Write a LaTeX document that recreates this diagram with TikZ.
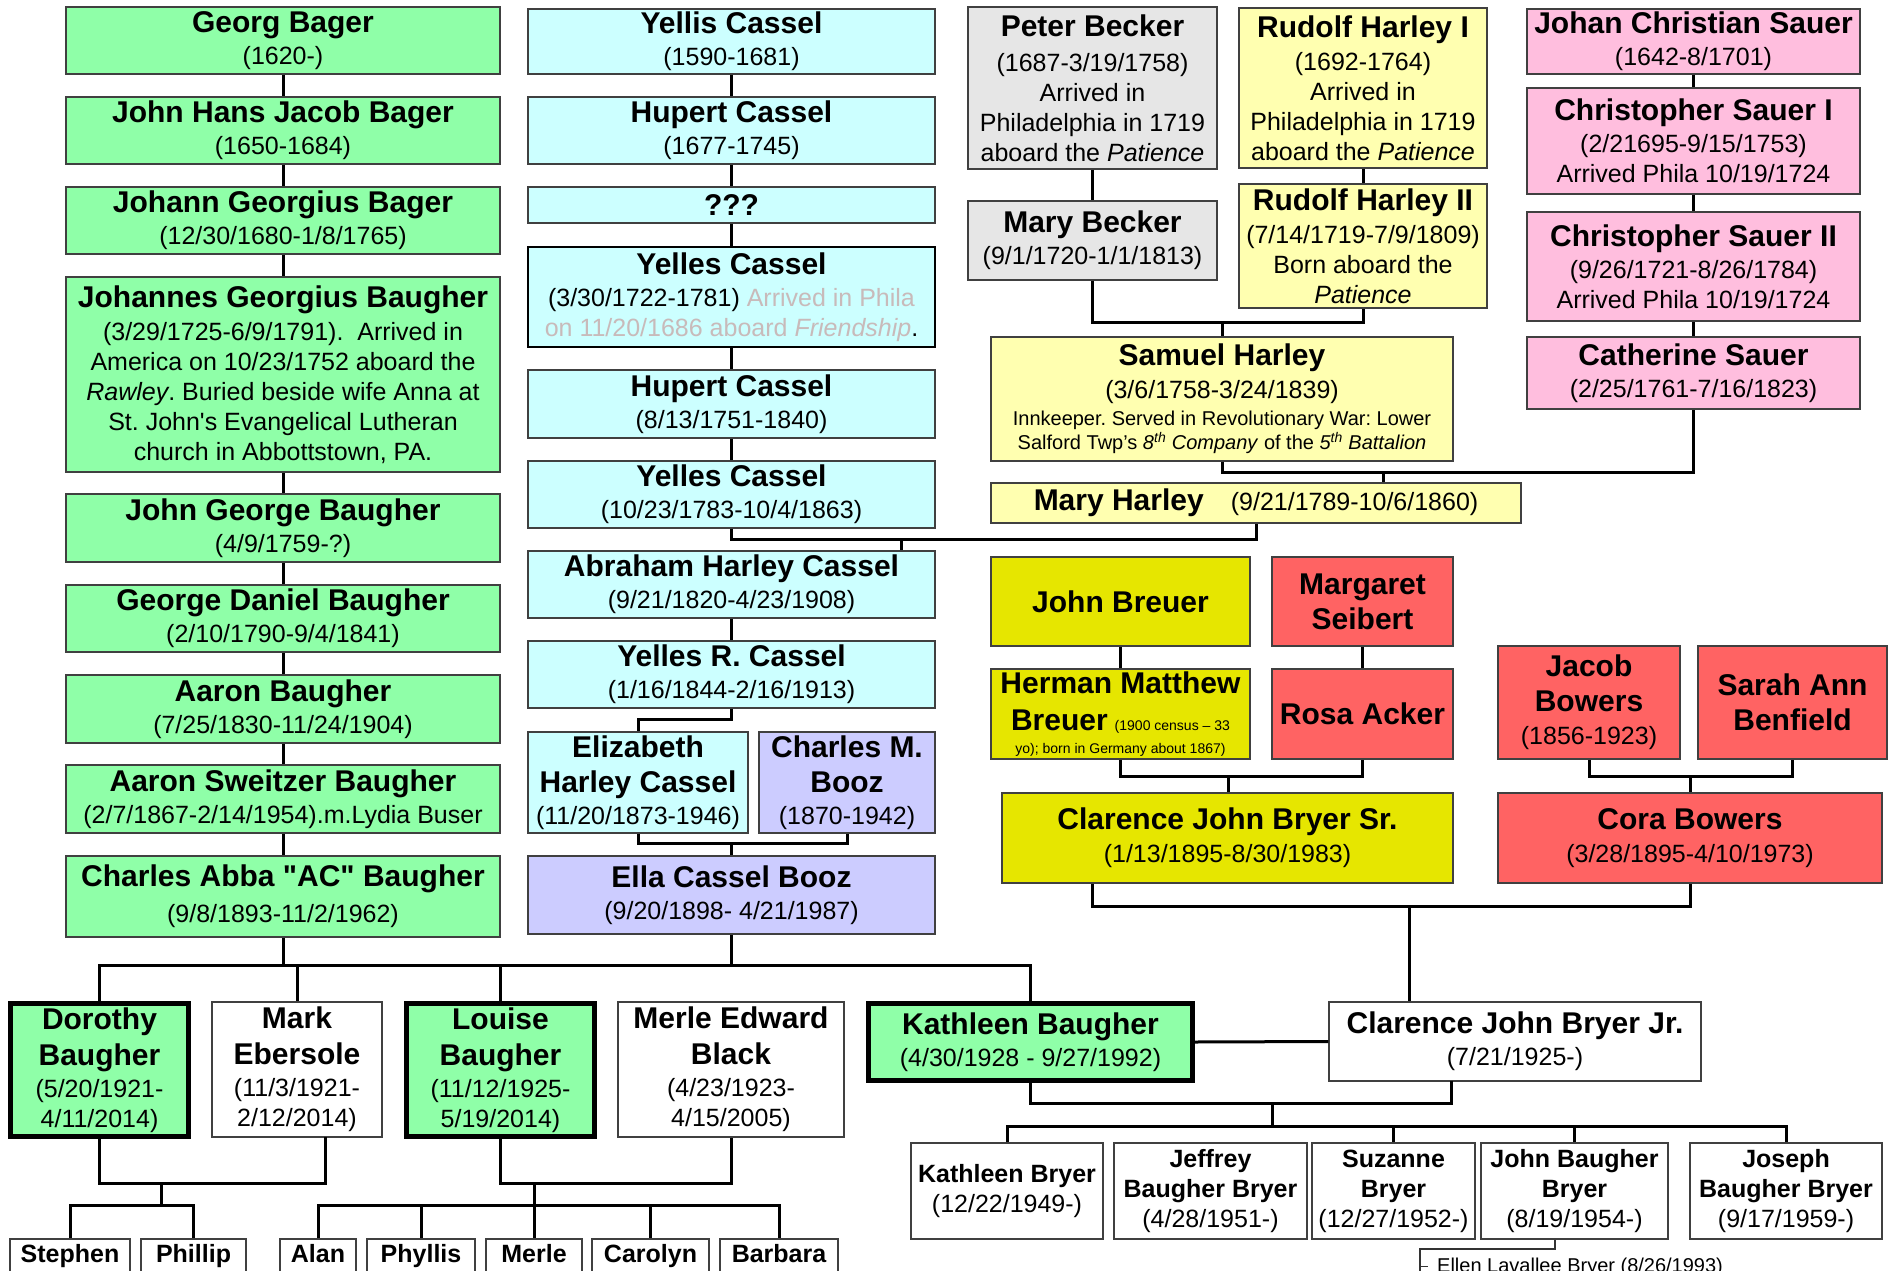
\documentclass[tikz,border=0pt]{standalone}
\usepackage{fontspec}
\setmainfont{Liberation Sans}
\usetikzlibrary{calc}
\definecolor{cgreen}{RGB}{143,255,168}
\definecolor{ccyan}{RGB}{204,255,255}
\definecolor{cgray}{RGB}{230,230,230}
\definecolor{cly}{RGB}{255,255,176}
\definecolor{cpink}{RGB}{255,190,222}
\definecolor{cyel}{RGB}{230,230,0}
\definecolor{cred}{RGB}{255,99,99}
\definecolor{clav}{RGB}{204,204,255}
\definecolor{gtxt}{RGB}{200,186,186}
\definecolor{bord}{RGB}{64,64,64}
\newcommand\pnm[1]{{\fontsize{30}{36}\selectfont\bfseries #1}}
\newcommand\psml{\fontsize{14}{17}\selectfont}
\newcommand\pb[7]{\node[box,#6,minimum width={(#4)-(#2)},minimum height={(#5)-(#3)}] (#1) at ({((#2)+(#4))/2},{((#3)+(#5))/2}) {#7};}
\tikzset{
  box/.style={draw=bord, line width=1.5pt, inner sep=0pt, align=center, font=\fontsize{25}{30}\selectfont\frenchspacing},
  thickbox/.style={draw=black, line width=5pt},
  kid/.style={font=\fontsize{25}{30}\selectfont\bfseries, text height=18pt, text depth=23pt},
  conn/.style={line width=3pt, black},
  thinconn/.style={line width=1.2pt, black!80},
}
\begin{document}
\frenchspacing
\begin{tikzpicture}[x=1pt,y=-1pt]
\clip (0,0) rectangle (1895,1271);
\fill[white] (0,0) rectangle (1895,1271);
% ---------- Bager / Baugher column
\pb{georg}{66}{7}{500}{74}{fill=cgreen}{\pnm{Georg Bager}\\[2pt](1620-)}
\pb{jhjb}{66}{97}{500}{164}{fill=cgreen}{\pnm{John Hans Jacob Bager}\\[2pt](1650-1684)}
\pb{jgb}{66}{187}{500}{254}{fill=cgreen}{\pnm{Johann Georgius Bager}\\[2pt](12/30/1680-1/8/1765)}
\pb{jgbaugh}{66}{277}{500}{472}{fill=cgreen}{\pnm{Johannes Georgius Baugher}\\[3pt](3/29/1725-6/9/1791).\ \ Arrived in\\America on 10/23/1752 aboard the\\\textit{Rawley}. Buried beside wife Anna at\\St. John\textquotesingle s Evangelical Lutheran\\church in Abbottstown, PA.}
\pb{jgeo}{66}{494}{500}{562}{fill=cgreen}{\pnm{John George Baugher}\\[2pt](4/9/1759-?)}
\pb{gdb}{66}{585}{500}{652}{fill=cgreen}{\pnm{George Daniel Baugher}\\[2pt](2/10/1790-9/4/1841)}
\pb{aaron}{66}{675}{500}{743}{fill=cgreen}{\pnm{Aaron Baugher}\\[2pt](7/25/1830-11/24/1904)}
\pb{asb}{66}{765}{500}{833}{fill=cgreen}{\pnm{Aaron Sweitzer Baugher}\\[2pt](2/7/1867-2/14/1954).m.Lydia Buser}
\pb{cab}{66}{856}{500}{937}{fill=cgreen}{\pnm{Charles Abba \textquotedbl AC\textquotedbl\ Baugher}\\[6pt](9/8/1893-11/2/1962)}
% ---------- Cassel column
\pb{yellis}{528}{9}{935}{74}{fill=ccyan}{\pnm{Yellis Cassel}\\[2pt](1590-1681)}
\pb{hupa}{528}{97}{935}{164}{fill=ccyan}{\pnm{Hupert Cassel}\\[2pt](1677-1745)}
\pb{qqq}{528}{187}{935}{223}{fill=ccyan}{\pnm{???}}
\pb{yela}{528}{247}{935}{347}{fill=ccyan,draw=black,line width=2.5pt}{\pnm{Yelles Cassel}\\[2pt](3/30/1722-1781) {\color{gtxt}Arrived in Phila}\\{\color{gtxt}on 11/20/1686 aboard \textit{Friendship}}.}
\pb{hupb}{528}{370}{935}{438}{fill=ccyan}{\pnm{Hupert Cassel}\\[2pt](8/13/1751-1840)}
\pb{yelb}{528}{461}{935}{528}{fill=ccyan}{\pnm{Yelles Cassel}\\[2pt](10/23/1783-10/4/1863)}
\pb{abraham}{528}{551}{935}{618}{fill=ccyan}{\pnm{Abraham Harley Cassel}\\[2pt](9/21/1820-4/23/1908)}
\pb{yrc}{528}{641}{935}{708}{fill=ccyan}{\pnm{Yelles R. Cassel}\\[2pt](1/16/1844-2/16/1913)}
\pb{eliz}{528}{732}{748}{833}{fill=ccyan}{\pnm{Elizabeth}\\[5pt]\pnm{Harley Cassel}\\[2pt](11/20/1873-1946)}
\pb{cmb}{759}{732}{935}{833}{fill=clav}{\pnm{Charles M.}\\[5pt]\pnm{Booz}\\[2pt](1870-1942)}
\pb{ella}{528}{856}{935}{934}{fill=clav}{\pnm{Ella Cassel Booz}\\[2pt](9/20/1898- 4/21/1987)}
% ---------- Becker / Harley
\pb{peter}{968}{7}{1217}{169}{fill=cgray}{\pnm{Peter Becker}\\[5pt](1687-3/19/1758)\\Arrived in\\Philadelphia in 1719\\aboard the \textit{Patience}}
\pb{maryb}{968}{201}{1217}{280}{fill=cgray}{\pnm{Mary Becker}\\[2pt](9/1/1720-1/1/1813)}
\pb{rud1}{1239}{8}{1487}{168}{fill=cly}{\pnm{Rudolf Harley I}\\[3pt](1692-1764)\\Arrived in\\Philadelphia in 1719\\aboard the \textit{Patience}}
\pb{rud2}{1239}{184}{1487}{308}{fill=cly}{\pnm{Rudolf Harley II}\\[3pt](7/14/1719-7/9/1809)\\Born aboard the\\\textit{Patience}}
\pb{samuel}{991}{337}{1453}{461}{fill=cly}{\pnm{Samuel Harley}\\[3pt](3/6/1758-3/24/1839)\\[-3pt]{\fontsize{20}{24}\selectfont Innkeeper. Served in Revolutionary War: Lower}\\[-6pt]{\fontsize{20}{24}\selectfont Salford Twp’s \textit{8\textsuperscript{th} Company} of the \textit{5\textsuperscript{th} Battalion}}}
\pb{maryh}{991}{483}{1521}{523}{fill=cly}{\pnm{Mary Harley}\hspace{27pt}(9/21/1789-10/6/1860)}
% ---------- Sauer
\pb{jcs}{1527}{9}{1860}{74}{fill=cpink}{\pnm{Johan Christian Sauer}\\[2pt](1642-8/1701)}
\pb{csa}{1527}{88}{1860}{194}{fill=cpink}{\pnm{Christopher Sauer I}\\[2pt](2/21695-9/15/1753)\\Arrived Phila 10/19/1724}
\pb{csb}{1527}{212}{1860}{321}{fill=cpink}{\pnm{Christopher Sauer II}\\[2pt](9/26/1721-8/26/1784)\\Arrived Phila 10/19/1724}
\pb{cath}{1527}{337}{1860}{409}{fill=cpink}{\pnm{Catherine Sauer}\\[2pt](2/25/1761-7/16/1823)}
% ---------- Breuer / Bowers
\pb{jbreuer}{991}{557}{1250}{646}{fill=cyel}{\pnm{John Breuer}}
\pb{margaret}{1272}{557}{1453}{646}{fill=cred}{\pnm{Margaret}\\[5pt]\pnm{Seibert}}
\pb{herman}{991}{669}{1250}{759}{fill=cyel}{\pnm{Herman Matthew}\\[7pt]\pnm{Breuer} {\psml(1900 census – 33}\\[-7pt]{\psml yo); born in Germany about 1867)}}
\pb{rosa}{1272}{669}{1453}{759}{fill=cred}{\pnm{Rosa Acker}}
\pb{cjbsr}{1002}{793}{1453}{883}{fill=cyel}{\pnm{Clarence John Bryer Sr.}\\[3pt](1/13/1895-8/30/1983)}
\pb{jacob}{1498}{646}{1680}{759}{fill=cred}{\pnm{Jacob}\\[5pt]\pnm{Bowers}\\[3pt](1856-1923)}
\pb{sarah}{1698}{646}{1887}{759}{fill=cred}{\pnm{Sarah Ann}\\[5pt]\pnm{Benfield}}
\pb{cora}{1498}{793}{1882}{883}{fill=cred}{\pnm{Cora Bowers}\\[3pt](3/28/1895-4/10/1973)}
% ---------- generation of Dorothy
\pb{dorothy}{10.5}{1003.5}{188.5}{1136.5}{fill=cgreen,thickbox}{\pnm{Dorothy}\\[6pt]\pnm{Baugher}\\[2pt](5/20/1921-\\4/11/2014)}
\pb{mark}{212}{1002}{382}{1137}{fill=white}{\pnm{Mark}\\[6pt]\pnm{Ebersole}\\[2pt](11/3/1921-\\2/12/2014)}
\pb{louise}{406.5}{1003.5}{594.5}{1136.5}{fill=cgreen,thickbox}{\pnm{Louise}\\[6pt]\pnm{Baugher}\\[2pt](11/12/1925-\\5/19/2014)}
\pb{merle}{618}{1002}{844}{1137}{fill=white}{\pnm{Merle Edward}\\[6pt]\pnm{Black}\\[2pt](4/23/1923-\\4/15/2005)}
\pb{kathleen}{868.5}{1003.5}{1192.5}{1080.5}{fill=cgreen,thickbox}{\pnm{Kathleen Baugher}\\[2pt](4/30/1928 - 9/27/1992)}
\pb{cjbjr}{1329}{1002}{1701}{1081}{fill=white}{\pnm{Clarence John Bryer Jr.}\\[2pt](7/21/1925-)}
% ---------- grandchildren
\pb{stephen}{10}{1239}{130}{1290}{fill=white,kid}{Stephen}
\pb{phillip}{141}{1239}{246}{1290}{fill=white,kid}{Phillip}
\pb{alan}{280}{1239}{356}{1290}{fill=white,kid}{Alan}
\pb{phyllis}{367}{1239}{475}{1290}{fill=white,kid}{Phyllis}
\pb{merlek}{486}{1239}{582}{1290}{fill=white,kid}{Merle}
\pb{carolyn}{592}{1239}{709}{1290}{fill=white,kid}{Carolyn}
\pb{barbara}{720}{1239}{838}{1290}{fill=white,kid}{Barbara}
\pb{kb}{911}{1143}{1103}{1239}{fill=white}{\textbf{Kathleen Bryer}\\(12/22/1949-)}
\pb{jeff}{1114}{1143}{1307}{1239}{fill=white}{\textbf{Jeffrey}\\\textbf{Baugher Bryer}\\(4/28/1951-)}
\pb{suz}{1312}{1143}{1475}{1239}{fill=white}{\textbf{Suzanne}\\\textbf{Bryer}\\(12/27/1952-)}
\pb{jbb}{1481}{1143}{1668}{1239}{fill=white}{\textbf{John Baugher}\\\textbf{Bryer}\\(8/19/1954-)}
\pb{jos}{1690}{1143}{1882}{1239}{fill=white}{\textbf{Joseph}\\\textbf{Baugher Bryer}\\(9/17/1959-)}
\node[font=\fontsize{20}{24}\selectfont, inner sep=0pt, anchor=base west] (ellen) at (1437,1272) {Ellen Lavallee Bryer (8/26/1993)};
% ---------- junction coordinates
\coordinate (jy) at (731,539);
\coordinate (abx) at (901,539);
\coordinate (jr) at (731,719);
\coordinate (je) at (731,843);
\coordinate (jb) at (1222,322);
\coordinate (js) at (1383,472);
\coordinate (jh) at (1228,776);
\coordinate (jj) at (1690,776);
\coordinate (jc) at (1409,906);
\coordinate (csx) at (1092,883);
\coordinate (jk) at (0,965);
\coordinate (jd) at (161,1183);
\coordinate (jd2) at (161,1205);
\coordinate (mkx) at (325,1137);
\coordinate (jl) at (534,1183);
\coordinate (jl2) at (534,1205);
\coordinate (jq) at (1272,1103);
\coordinate (jq2) at (1272,1126);
\coordinate (cjx) at (1451,1081);
\coordinate (ex) at (1555,1249);
\coordinate (ey) at (1420,1249);
\coordinate (ez) at (1420,1290);
% ---------- connectors
\foreach \a/\b in {georg/jhjb,jhjb/jgb,jgb/jgbaugh,jgbaugh/jgeo,jgeo/gdb,gdb/aaron,aaron/asb,asb/cab,
  yellis/hupa,hupa/qqq,qqq/yela,yela/hupb,hupb/yelb,abraham/yrc,
  peter/maryb,rud1/rud2,jcs/csa,csa/csb,csb/cath,jbreuer/herman,margaret/rosa}
  \draw[conn] (\a.south) -- (\b.north);
\draw[conn] (yelb.south) |- (maryh.south |- jy) -- (maryh.south);
\draw[conn] (abx) -- (abx |- abraham.north);
\draw[conn] (yrc.south) |- (eliz.north |- jr) -- (eliz.north);
\draw[conn] (eliz.south) |- (cmb.south |- je) -- (cmb.south);
\draw[conn] (je) -- (je |- ella.north);
\draw[conn] (maryb.south) |- (rud2.south |- jb) -- (rud2.south);
\draw[conn] (jb) -- (jb |- samuel.north);
\draw[conn] (samuel.south) |- (cath.south |- js) -- (cath.south);
\draw[conn] (js) -- (js |- maryh.north);
\draw[conn] (herman.south) |- (rosa.south |- jh) -- (rosa.south);
\draw[conn] (jh) -- (jh |- cjbsr.north);
\draw[conn] (jacob.south) |- (sarah.south |- jj) -- (sarah.south);
\draw[conn] (jj) -- (jj |- cora.north);
\draw[conn] (csx |- cjbsr.south) |- (cora.south |- jc) -- (cora.south);
\draw[conn] (jc) -- (jc |- cjbjr.north);
\draw[conn] (cab.south) -- (cab.south |- jk);
\draw[conn] (ella.south) -- (ella.south |- jk);
\draw[conn] (dorothy.north) |- (kathleen.north |- jk) -- (kathleen.north);
\draw[conn] (mark.north |- jk) -- (mark.north);
\draw[conn] (louise.north |- jk) -- (louise.north);
\draw[conn] (dorothy.south) |- (mkx |- jd) -- (mkx);
\draw[conn] (jd) -- (jd2);
\draw[conn] (stephen.north) |- (phillip.north |- jd2) -- (phillip.north);
\draw[conn] (louise.south) |- (merle.south |- jl) -- (merle.south);
\draw[conn] (jl) -- (jl2);
\draw[conn] (alan.north) |- (barbara.north |- jl2) -- (barbara.north);
\foreach \k in {phyllis,merlek,carolyn} \draw[conn] (\k.north |- jl2) -- (\k.north);
\draw[conn] (kathleen.east) -- (cjbjr.west);
\draw[conn] (kathleen.south) |- (cjx |- jq) -- (cjx);
\draw[conn] (jq) -- (jq2);
\draw[conn] (kb.north) |- (jos.north |- jq2) -- (jos.north);
\foreach \k in {suz,jbb} \draw[conn] (\k.north |- jq2) -- (\k.north);
\draw[thinconn] (ex |- jbb.south) -- (ex) -- (ey) -- (ez);
\draw[thinconn] (ey |- ellen.west) -- ++(8,0);
\end{tikzpicture}
\end{document}
